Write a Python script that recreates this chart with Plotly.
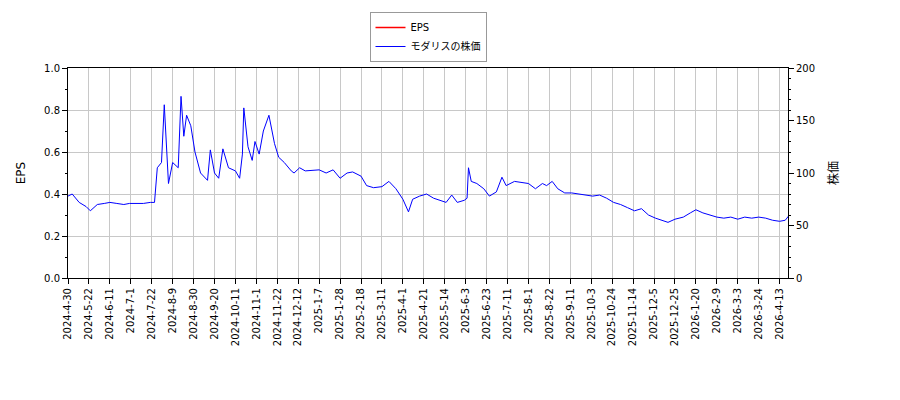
import numpy as np
import plotly.graph_objects as go

price_dates = ["2024-04-30","2024-05-03","2024-05-10","2024-05-17","2024-05-22","2024-05-29","2024-06-05","2024-06-11",
    "2024-06-18","2024-06-25","2024-07-01","2024-07-08","2024-07-15","2024-07-22","2024-07-25","2024-07-29","2024-08-01",
    "2024-08-05","2024-08-07","2024-08-08","2024-08-13","2024-08-19","2024-08-21","2024-08-23","2024-08-27","2024-08-30",
    "2024-09-04","2024-09-10","2024-09-17","2024-09-19","2024-09-24","2024-09-27","2024-10-02","2024-10-08","2024-10-15",
    "2024-10-18","2024-10-22","2024-10-23","2024-10-28","2024-10-31","2024-11-04","2024-11-07","2024-11-12","2024-11-18",
    "2024-11-22","2024-11-27","2024-12-03","2024-12-10","2024-12-12","2024-12-18","2024-12-24","2025-01-07","2025-01-14",
    "2025-01-21","2025-01-28","2025-02-04","2025-02-10","2025-02-18","2025-02-24","2025-03-03","2025-03-11","2025-03-18",
    "2025-03-25","2025-04-01","2025-04-07","2025-04-10","2025-04-17","2025-04-24","2025-05-01","2025-05-08","2025-05-14",
    "2025-05-20","2025-05-26","2025-06-02","2025-06-04","2025-06-05","2025-06-09","2025-06-13","2025-06-20","2025-06-26",
    "2025-07-03","2025-07-09","2025-07-14","2025-07-22","2025-07-29","2025-08-05","2025-08-12","2025-08-19","2025-08-22",
    "2025-08-28","2025-09-03","2025-09-10","2025-09-17","2025-09-24","2025-10-01","2025-10-08","2025-10-15","2025-10-22",
    "2025-10-29","2025-11-05","2025-11-12","2025-11-19","2025-11-26","2025-12-03","2025-12-10","2025-12-17","2025-12-23",
    "2025-12-30","2026-01-07","2026-01-14","2026-01-20","2026-01-27","2026-02-03","2026-02-10","2026-02-17","2026-02-24",
    "2026-03-03","2026-03-10","2026-03-17","2026-03-24","2026-03-31","2026-04-07","2026-04-14","2026-04-20","2026-04-23"]
price = [78,80,72,68,64,70,71,72,71,70,71,71,71,72,72,105,110,165,120,90,110,105,173,135,155,145,120,100,93,122,100,95,
    123,105,102,95,118,162,125,112,130,118,140,155,128,115,110,102,100,105,102,103,100,103,95,100,101,97,88,86,87,92,85,
    75,63,75,78,80,76,74,72,79,72,74,76,105,92,90,85,78,82,96,88,92,91,90,85,90,88,92,85,81,81,80,79,78,79,76,72,70,67,
    64,66,60,57,55,53,56,58,62,65,62,60,58,57,58,56,58,57,58,57,55,54,55,60]

tick_dates = ["2024-04-30","2024-05-22","2024-06-11","2024-07-01","2024-07-22","2024-08-09","2024-08-30","2024-09-20",
    "2024-10-11","2024-11-01","2024-11-22","2024-12-12","2025-01-07","2025-01-28","2025-02-18","2025-03-11","2025-04-01",
    "2025-04-21","2025-05-14","2025-06-03","2025-06-23","2025-07-11","2025-08-01","2025-08-22","2025-09-11","2025-10-03",
    "2025-10-24","2025-11-14","2025-12-05","2025-12-25","2026-01-20","2026-02-09","2026-03-03","2026-03-24","2026-04-13"]

start = np.datetime64("2024-04-30")
# positions on a trading-day axis, ticks spaced every 15 trading days
px_ = [int(np.busday_count(start, np.datetime64(d))) for d in price_dates]
tick_pos = [15 * i for i in range(len(tick_dates))]
tick_text = ["%d-%d-%d" % tuple(int(p) for p in d.split("-")) for d in tick_dates]

fig = go.Figure()
fig.add_trace(go.Scatter(x=[None], y=[None], mode="lines", name="EPS", line=dict(color="red", width=1.5)))
fig.add_trace(go.Scatter(x=px_, y=price, mode="lines", name="モダリスの株価", yaxis="y2",
                         line=dict(color="blue", width=1)))

axis = dict(showline=True, linecolor="black", mirror=False, ticks="outside", tickcolor="black",
            gridcolor="#c8c8c8", zeroline=False, automargin=False)
fig.update_layout(
    width=900, height=400, plot_bgcolor="white", paper_bgcolor="white",
    font=dict(family="DejaVu Sans, Noto Sans CJK JP", size=10, color="black"),
    margin=dict(l=60, r=120, t=60, b=130, autoexpand=False),
    xaxis=dict(axis, tickvals=tick_pos, ticktext=tick_text, tickangle=-90, range=[0, 516], mirror=True),
    yaxis=dict(axis, title="EPS", range=[0, 1], dtick=0.2, tickformat=".1f",
               minor=dict(dtick=0.1, ticks="outside", tickcolor="black", ticklen=2)),
    yaxis2=dict(axis, title=dict(text="株価"), range=[0, 200], dtick=50, overlaying="y", side="right",
                showgrid=False, minor=dict(dtick=10, ticks="outside", tickcolor="black", ticklen=2)),
    legend=dict(x=0.5, xanchor="center", y=0.99, yref="container", yanchor="top", bordercolor="#999",
                borderwidth=1, bgcolor="white"),
    showlegend=True,
)
fig.write_html("out.html")
